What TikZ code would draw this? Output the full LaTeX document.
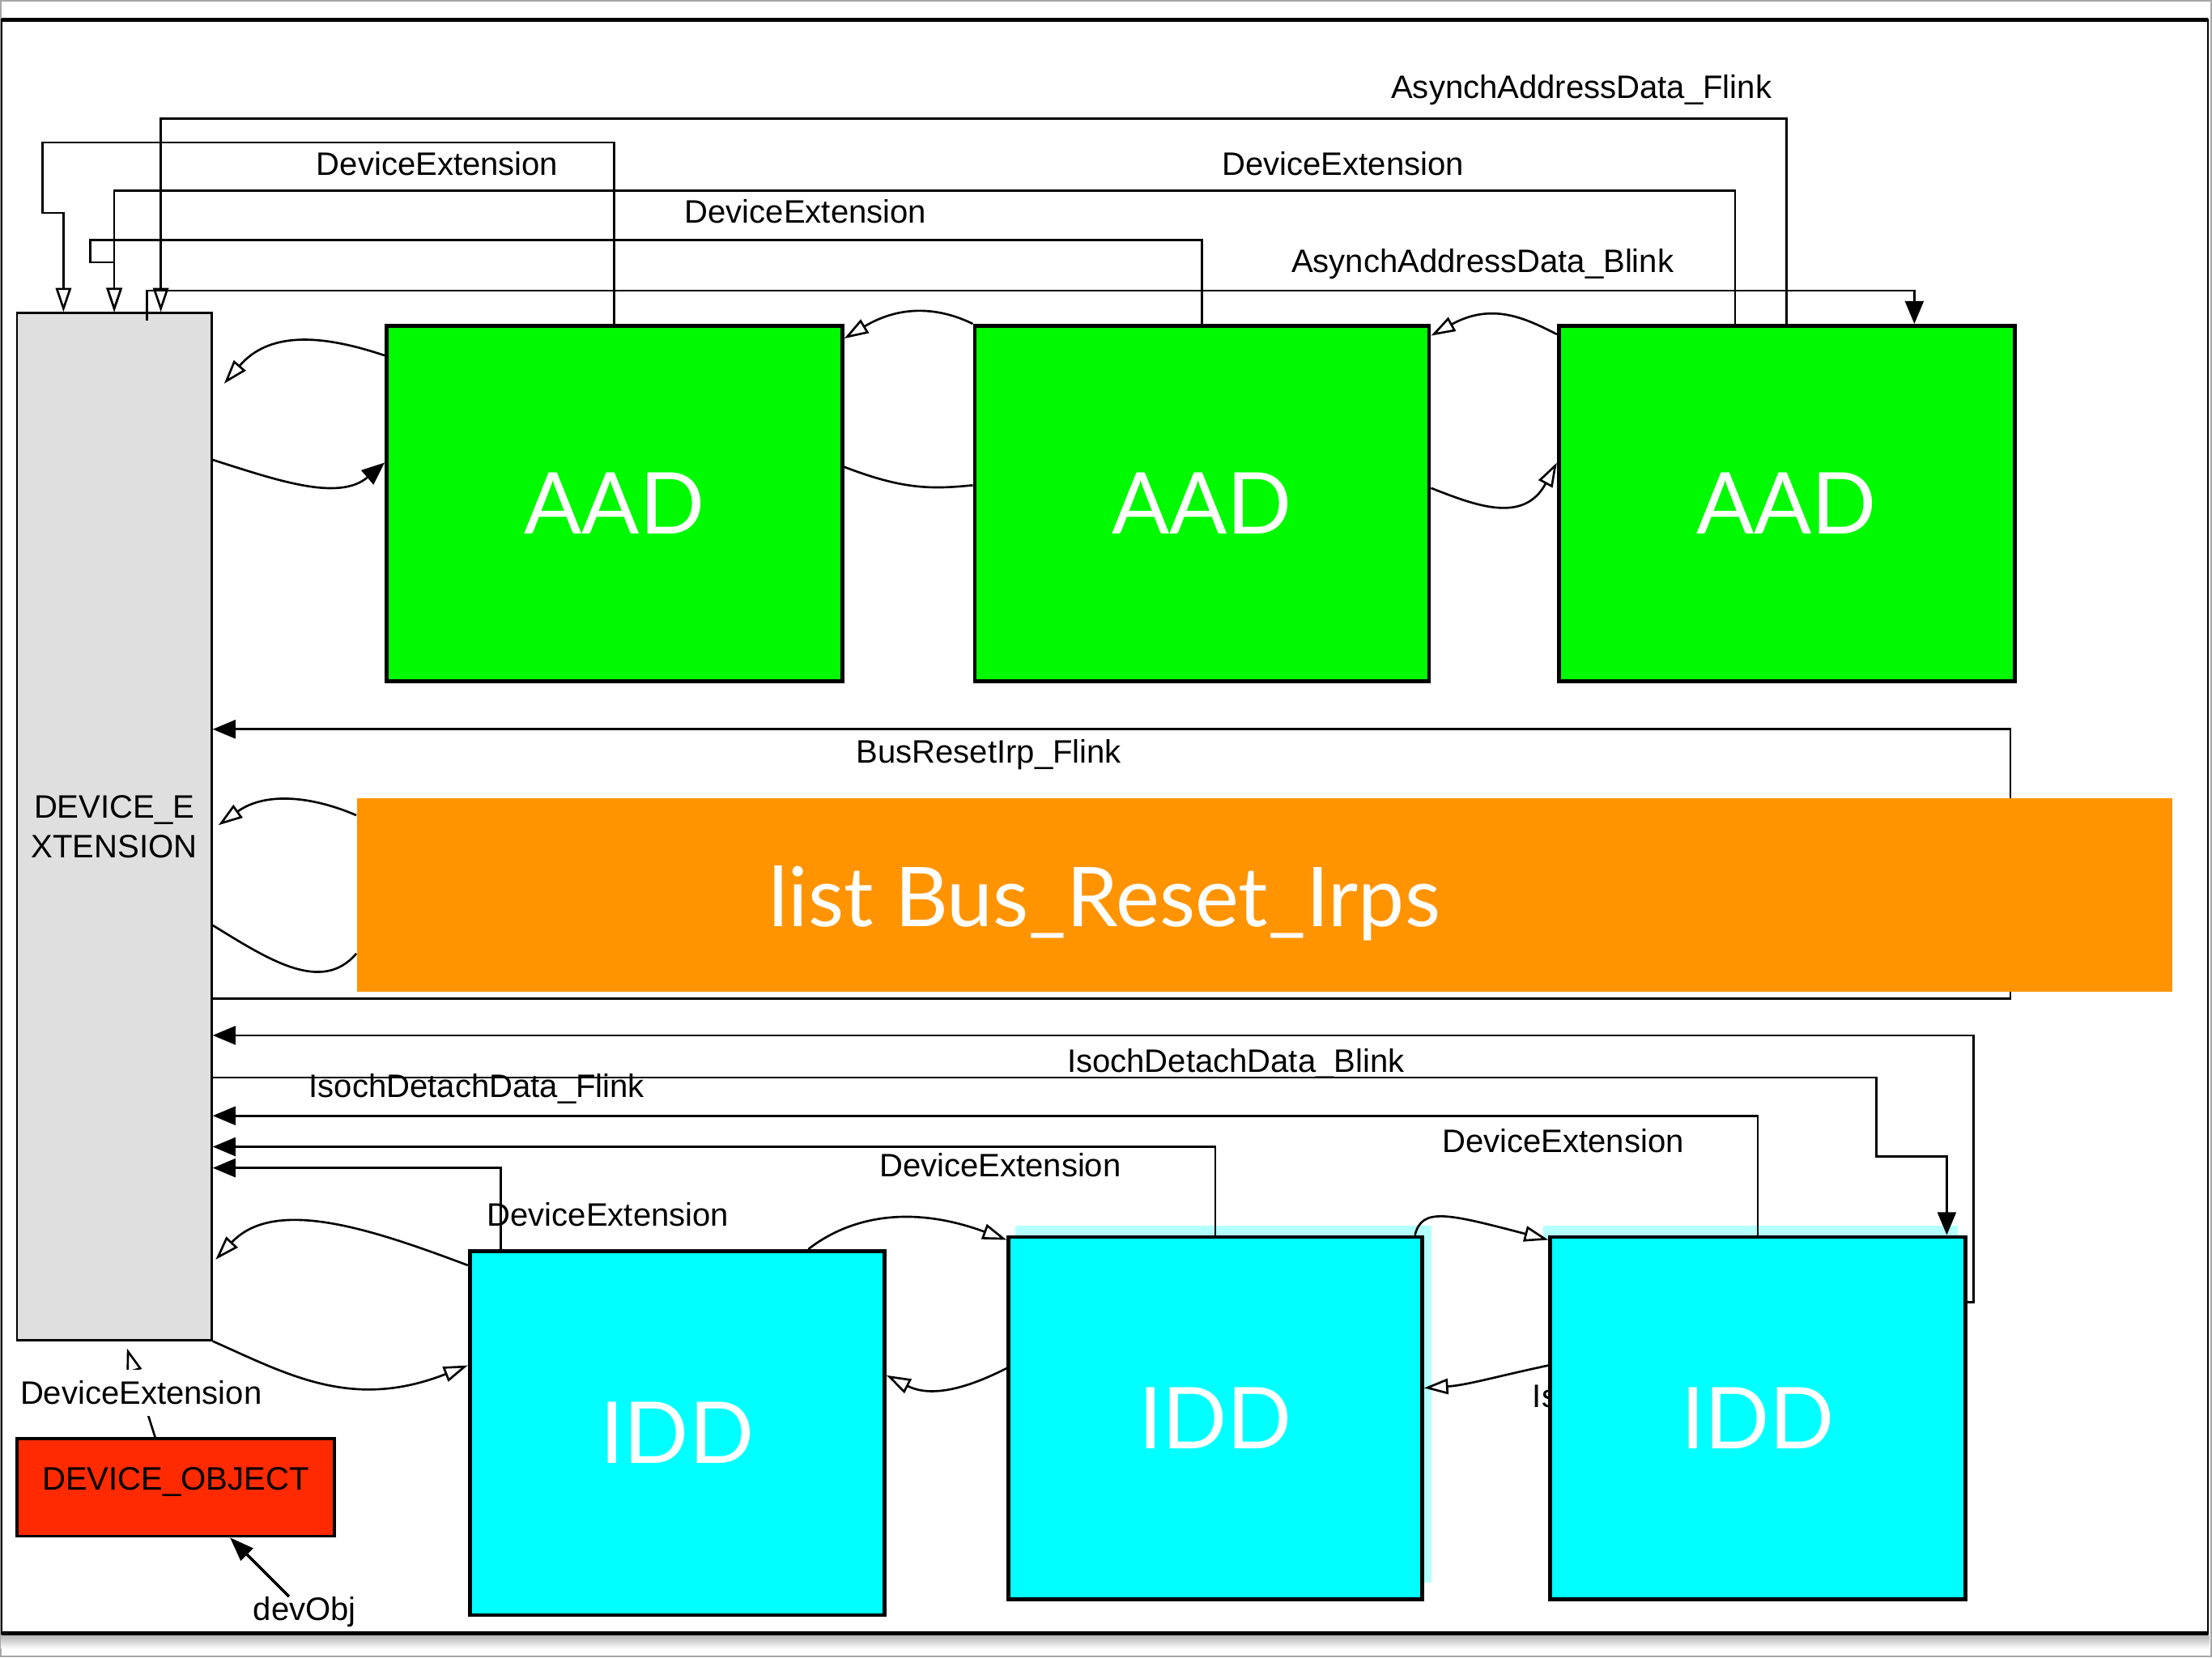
\documentclass[tikz,border=0pt]{standalone}
\usepackage{fontspec}
\setmainfont{Liberation Sans}
\newfontfamily\gillfont{Lato}
\usetikzlibrary{arrows.meta,fit,backgrounds}
\definecolor{extgray}{HTML}{DFDFDF}
\definecolor{aadgreen}{HTML}{00FA00}
\definecolor{iddcyan}{HTML}{00FFFF}
\definecolor{halocyan}{HTML}{B4FFFF}
\definecolor{irporange}{HTML}{FF9400}
\definecolor{objred}{HTML}{FF2A00}
\begin{document}
\begin{tikzpicture}[x=0.01742cm, y=-0.01742cm, line join=miter,
  font=\fontsize{11.4}{13.9}\selectfont,
  link/.style={line width=0.75pt},
  openhd/.style={-{Triangle[length=8.5pt,width=5.5pt,fill=white]}},
  fullhd/.style={-{Triangle[length=8pt,width=6.5pt]}},
  box/.style={draw, inner sep=0pt, line width=1.4pt},
  bigtext/.style={text=white, inner sep=0pt, font=\gillfont\fontsize{30}{30}\selectfont},
  aad/.style={box, fill=aadgreen},
  idd/.style={box, fill=iddcyan},
  lbl/.style={anchor=base, inner sep=0pt}]
  \useasboundingbox (0,0) rectangle (1568,1175);
  \draw[gray!70, line width=0.6pt] (0.5,0.5) rectangle (1567.5,1174.5);
  \shade[top color=gray!60, bottom color=white] (1,1159) rectangle (1566,1169);
  \draw[line width=0.6pt] (1,14) rectangle (1565,1158);
  \draw[line width=1.3pt] (1,14) -- (1565,14);
  \draw[line width=1.5pt] (1,1158) -- (1565,1158);
  \fill[halocyan] (720,869) rectangle (1015,1122);
  \fill[halocyan] (1094,869) rectangle (1388,878);
  \node[lbl, anchor=base west] (iscut) at (1086,998) {Is};
  \node[draw, fill=extgray, line width=0.8pt, inner sep=0pt, fit={(12,222) (150,950)},
    label={[name=devextlbl, align=center, inner sep=0pt]center:DEVICE\_E\\XTENSION}] (devext) {};
  \node[aad, fit={(274,231) (597,483)}, label={[name=aad1lbl, bigtext]center:AAD}] (aad1) {};
  \node[aad, fit={(691,231) (1013,483)}, label={[name=aad2lbl, bigtext]center:AAD}] (aad2) {};
  \node[aad, fit={(1105,231) (1428,483)}, label={[name=aad3lbl, bigtext]center:AAD}] (aad3) {};
  \node[idd, fit={(333,887) (627,1145)}, label={[name=idd1lbl, bigtext]center:IDD}] (idd1) {};
  \node[idd, fit={(715,877) (1008,1134)}, label={[name=idd2lbl, bigtext]center:IDD}] (idd2) {};
  \node[idd, fit={(1099,877) (1393,1134)}, label={[name=idd3lbl, bigtext]center:IDD}] (idd3) {};
  \node[fill=irporange, inner sep=0pt, fit={(253,566) (1540,703)}] (irps) {};
  \node[anchor=base, text=white, font=\gillfont\fontsize{29}{29}\selectfont] (irpslbl) at (783,657) {list Bus\_Reset\_Irps};
  \node[draw, fill=objred, line width=1pt, inner sep=0pt, fit={(12,1020) (237,1089)},
    label={[name=devobjtxt, inner sep=0pt, yshift=2pt]center:DEVICE\_OBJECT}] (devobj) {};
  \node[lbl] (aflink) at (1121,70) {AsynchAddressData\_Flink};
  \node[lbl] (ext1) at (310,124) {DeviceExtension};
  \node[lbl] (ext2) at (952,124) {DeviceExtension};
  \node[lbl] (ext3) at (571,158) {DeviceExtension};
  \node[lbl] (ablink) at (1051,193) {AsynchAddressData\_Blink};
  \node[lbl] (bflink) at (701,541) {BusResetIrp\_Flink};
  \node[lbl] (iblink) at (876,760) {IsochDetachData\_Blink};
  \node[lbl] (iflink) at (338,778) {IsochDetachData\_Flink};
  \node[lbl] (ext4) at (1108,817) {DeviceExtension};
  \node[lbl] (ext5) at (709,834) {DeviceExtension};
  \node[lbl] (ext6) at (431,869) {DeviceExtension};
  \node[lbl] (devobjlbl) at (216,1149) {devObj};
  \draw[link,openhd] (aad1.north) |- (30,101) |- (45,151) -- (45,0 |- devext.north);
  \draw[link,openhd] (1230,0 |- aad3.north) |- (81,135) -- (81,0 |- devext.north);
  \draw[link,openhd] (aad2.north) |- (64,170) |- (81,186) -- (81,0 |- devext.north);
  \draw[link,openhd] (aad3.north) |- (114,84) -- (114,0 |- devext.north);
  \draw[link,fullhd] (104,0 |- devext.north) ++(0,6) |- (1357,206) -- (1357,0 |- aad3.north);
  \draw[link,openhd] (aad1.west |- 0,252) .. controls (225,236) and (190,236) .. ([xshift=4pt]devext.east |- 0,272);
  \draw[link,fullhd] (devext.east |- 0,326) .. controls (195,340) and (240,356) .. (aad1.west |- 0,328);
  \draw[link,openhd] (aad2.north west) .. controls (670,220) and (642,214) .. (aad1.east |- 0,240);
  \draw[link] (aad1.east |- 0,331) .. controls (640,347) and (660,347) .. (aad2.west |- 0,344);
  \draw[link,openhd] (aad3.west |- 0,237) .. controls (1082,226) and (1058,214) .. (aad2.east |- 0,238);
  \draw[link,openhd] (aad2.east |- 0,346) .. controls (1045,358) and (1080,372) .. (aad3.west |- 0,328);
  \begin{scope}[on background layer]
    \draw[link,fullhd] (devext.east |- 0,708) -| (1425,612) |- (devext.east |- 0,517);
    \draw[link,openhd] (irps.west |- 0,578) .. controls (225,566) and (190,560) .. ([xshift=2pt]devext.east |- 0,585);
    \draw[link] (devext.east |- 0,656) .. controls (190,680) and (228,705) .. (irps.west |- 0,676);
  \end{scope}
  \draw[link,fullhd] (devext.east |- 0,764) -| (1330,820) -| (1380,0 |- idd3.north);
  \draw[link,fullhd] (idd3.east |- 0,923) -| (1399,734) -- (devext.east |- 0,734);
  \draw[link,fullhd] (idd3.north) |- (devext.east |- 0,791);
  \draw[link,fullhd] (idd2.north) |- (devext.east |- 0,813);
  \draw[link,fullhd] (355,0 |- idd1.north) |- (devext.east |- 0,828);
  \draw[link,openhd] (idd1.west |- 0,897) .. controls (265,872) and (195,848) .. ([xshift=1pt]devext.east |- 0,893);
  \draw[link,openhd] (devext.south east) .. controls (205,975) and (250,1000) .. (idd1.west |- 0,968);
  \draw[link,openhd] (573,0 |- idd1.north) .. controls (598,866) and (640,852) .. (idd2.west |- 0,879);
  \draw[link,openhd] (idd2.west |- 0,970) .. controls (690,982) and (662,992) .. (idd1.east |- 0,975);
  \draw[link,openhd] (1003,0 |- idd2.north) .. controls (1008,856) and (1025,860) .. (idd3.west |- 0,879);
  \draw[link,openhd] (idd3.west |- 0,968) .. controls (1060,976) and (1040,982) .. (idd2.east |- 0,984);
  \draw[link,openhd] (110,0 |- devobj.north) -- node[fill=white, inner sep=4pt] (ext7) {DeviceExtension} ([yshift=-2.5pt]90,0 |- devext.south);
  \draw[line width=1pt,-{Triangle[length=8.5pt,width=6pt]}] (devobjlbl) -- (163,0 |- devobj.south);
\end{tikzpicture}
\end{document}
